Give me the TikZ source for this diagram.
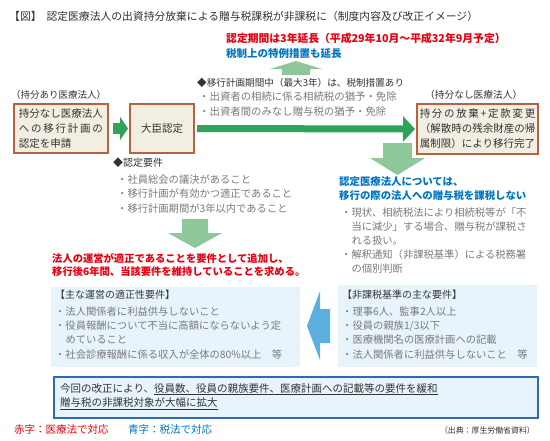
\documentclass[tikz,border=0pt]{standalone}
\usepackage{fontspec}
\setmainfont{Noto Sans CJK JP}
\usetikzlibrary{arrows.meta}
\definecolor{txtdark}{HTML}{333333}
\definecolor{txtgray}{HTML}{7A7A7A}
\definecolor{redtext}{HTML}{E60012}
\definecolor{bluetext}{HTML}{0075C2}
\definecolor{boxbrown}{HTML}{B4623F}
\definecolor{boxfill}{HTML}{F3EEE2}
\definecolor{dgreen}{HTML}{2EA35A}
\definecolor{lgreen}{HTML}{8EC89A}
\definecolor{lbfill}{HTML}{E8F4FC}
\definecolor{barrow}{HTML}{5BB0E0}
\definecolor{botborder}{HTML}{2B6CB5}
\tikzset{
  t/.style={anchor=west, inner sep=0pt, text=txtdark, font=\fontsize{10}{12}\selectfont},
  gtxt/.style={t, text=txtgray, font=\fontsize{10.3}{12}\selectfont},
  redtxt/.style={t, text=redtext, font=\fontsize{10.3}{12}\selectfont\bfseries},
  bluetxt/.style={t, text=bluetext, font=\fontsize{10.3}{12}\selectfont\bfseries},
  brownbox/.style={draw=boxbrown, line width=2pt, fill=boxfill, anchor=north west, inner sep=0pt,
    text=txtdark, font=\fontsize{10.5}{15}\selectfont, align=left},
  lbbox/.style={fill=lbfill, anchor=north west, inner sep=0pt},
  bigarrow/.style={draw=dgreen, line width=7pt, -{Triangle[length=12pt,width=25pt]}},
  smallarrow/.style={draw=dgreen, line width=11pt, -{Triangle[length=8pt,width=23pt]}},
}
\begin{document}
\begin{tikzpicture}[x=1pt,y=-1pt]
\useasboundingbox[fill=white] (0,0) rectangle (550,440);

% title
\node[t, font=\fontsize{10.8}{12}\selectfont] (title) at (9,16) {【図】\hspace{5pt}認定医療法人の出資持分放棄による贈与税課税が非課税に（制度内容及び改正イメージ）};

% top notes
\node[redtxt, font=\fontsize{10.8}{12}\selectfont\bfseries] (note1) at (226,38) {認定期間は3年延長（平成29年10月～平成32年9月予定）};
\node[bluetxt, font=\fontsize{10.5}{12}\selectfont\bfseries] (note2) at (226,54) {税制上の特例措置も延長};
\fill[lgreen] (282,75) -- (282,69) -- (270,69) -- (296,61) -- (322,69) -- (310,69) -- (310,75) -- cycle;

% transition period
\node[t, font=\fontsize{9.6}{12}\selectfont] (sched) at (197,83) {◆移行計画期間中（最大3年）は、税制措置あり};
\node[gtxt, font=\fontsize{10.4}{12}\selectfont] (sched1) at (199,97) {・出資者の相続に係る相続税の猶予・免除};
\node[gtxt, font=\fontsize{10.4}{12}\selectfont] (sched2) at (199,111.5) {・出資者間のみなし贈与税の猶予・免除};

% left label & boxes
\node[t, font=\fontsize{9.5}{12}\selectfont] (lab1) at (11,95) {（持分あり医療法人）};
\node[brownbox, minimum width=94pt, minimum height=49pt, text width=84pt] (b1) at (13,103)
  {持分なし医療法人\\\makebox[84pt][s]{へ\hfil の\hfil 移\hfil 行\hfil 計\hfil 画\hfil の}\\認定を申請};
\node[brownbox, minimum width=64pt, minimum height=49pt, align=center] (b2) at (129,103) {大臣認定};
\node[t, font=\fontsize{9.7}{12}\selectfont] (lab3) at (425,95) {（持分なし医療法人）};
\node[brownbox, minimum width=121pt, minimum height=50pt, text width=115.5pt] (b3) at (416,103)
  {\makebox[115.5pt][s]{持\hfil 分\hfil の\hfil 放\hfil 棄\hfil +\hfil 定\hfil 款\hfil 変\hfil 更}\\（解散時の残余財産の帰\\属制限）により移行完了};

\draw[smallarrow, shorten <=4pt, shorten >=1pt] (b1.east) -- (b2.west);
\draw[bigarrow, shorten <=2pt, shorten >=1pt] (b2.east) -- (b3.west);

% down arrow under b3
\fill[lgreen] (383,143) -- (412,143) -- (412,158) -- (425,158) -- (397.5,175) -- (370,158) -- (383,158) -- cycle;

% requirements
\node[t] (req) at (113,163) {◆認定要件};
\node[gtxt] (req1) at (117,180) {・社員総会の議決があること};
\node[gtxt] (req2) at (117,194) {・移行計画が有効かつ適正であること};
\node[gtxt] (req3) at (117,209) {・移行計画期間が3年以内であること};
\fill[lgreen] (182,219) -- (208,219) -- (208,233) -- (222,233) -- (195,248) -- (168,233) -- (182,233) -- cycle;

\node[redtxt] (res1) at (52,258) {法人の運営が適正であることを要件として追加し、};
\node[redtxt] (res2) at (52,272) {移行後6年間、当該要件を維持していることを求める。};

% tax explanation
\node[bluetxt, font=\fontsize{10.4}{12}\selectfont\bfseries] (tax1) at (339,182) {認定医療法人については、};
\node[bluetxt, font=\fontsize{10.4}{12}\selectfont\bfseries] (tax2) at (339,196) {移行の際の法人への贈与税を課税しない};
\node[gtxt] (tg1) at (341,213) {・現状、相続税法により相続税等が「不};
\node[gtxt] (tg2) at (351.3,227) {当に減少」する場合、贈与税が課税さ};
\node[gtxt] (tg3) at (351.3,241) {れる扱い。};
\node[gtxt] (tg4) at (341,255) {・解釈通知（非課税基準）による税務署};
\node[gtxt] (tg5) at (351.3,269) {の個別判断};

% light blue boxes
\node[lbbox, minimum width=249pt, minimum height=80pt] (lb1) at (51,287) {};
\node[t] (lb1h) at (55,295) {【主な運営の適正性要件】};
\node[gtxt] (lb1a) at (55,312) {・法人関係者に利益供与しないこと};
\node[gtxt] (lb1b) at (55,326) {・役員報酬について不当に高額にならないよう定};
\node[gtxt] (lb1c) at (65.3,340) {めていること};
\node[gtxt] (lb1d) at (55,355) {・社会診療報酬に係る収入が全体の80\%以上　等};

\node[lbbox, minimum width=199pt, minimum height=82pt] (lb2) at (338,285) {};
\node[t] (lb2h) at (342,295) {【非課税基準の主な要件】};
\node[gtxt] (lb2a) at (342,312) {・理事6人、監事2人以上};
\node[gtxt] (lb2b) at (342,326) {・役員の親族1/3以下};
\node[gtxt] (lb2c) at (342,340) {・医療機関名の医療計画への記載};
\node[gtxt] (lb2d) at (342,355) {・法人関係者に利益供与しないこと　等};

\fill[barrow] (330,309) -- (320,309) -- (320,291) -- (307,326) -- (320,360) -- (320,343) -- (330,343) -- cycle;

% bottom box
\node[draw=botborder, line width=2pt, fill=lbfill, anchor=north west, minimum width=484pt, minimum height=41pt, inner sep=0pt] (bot) at (53,376) {};
\node[t, font=\fontsize{10.5}{12}\selectfont] (bot1) at (60,389) {今回の改正により、\underline{役員数、役員の親族要件、医療計画への記載等の要件を緩和}};
\node[t, font=\fontsize{10.5}{12}\selectfont] (bot2) at (60,404) {\underline{贈与税の非課税対象が大幅に拡大}};

% legend
\node[t, text=redtext, font=\fontsize{10.5}{12}\selectfont] (leg1) at (14,430) {赤字：医療法で対応};
\node[t, text=bluetext, font=\fontsize{10.5}{12}\selectfont] (leg2) at (128,430) {青字：税法で対応};
\node[t, anchor=east, font=\fontsize{7.9}{9}\selectfont, text=txtdark] (src) at (535,430) {（出典：厚生労働省資料）};
\end{tikzpicture}
\end{document}
